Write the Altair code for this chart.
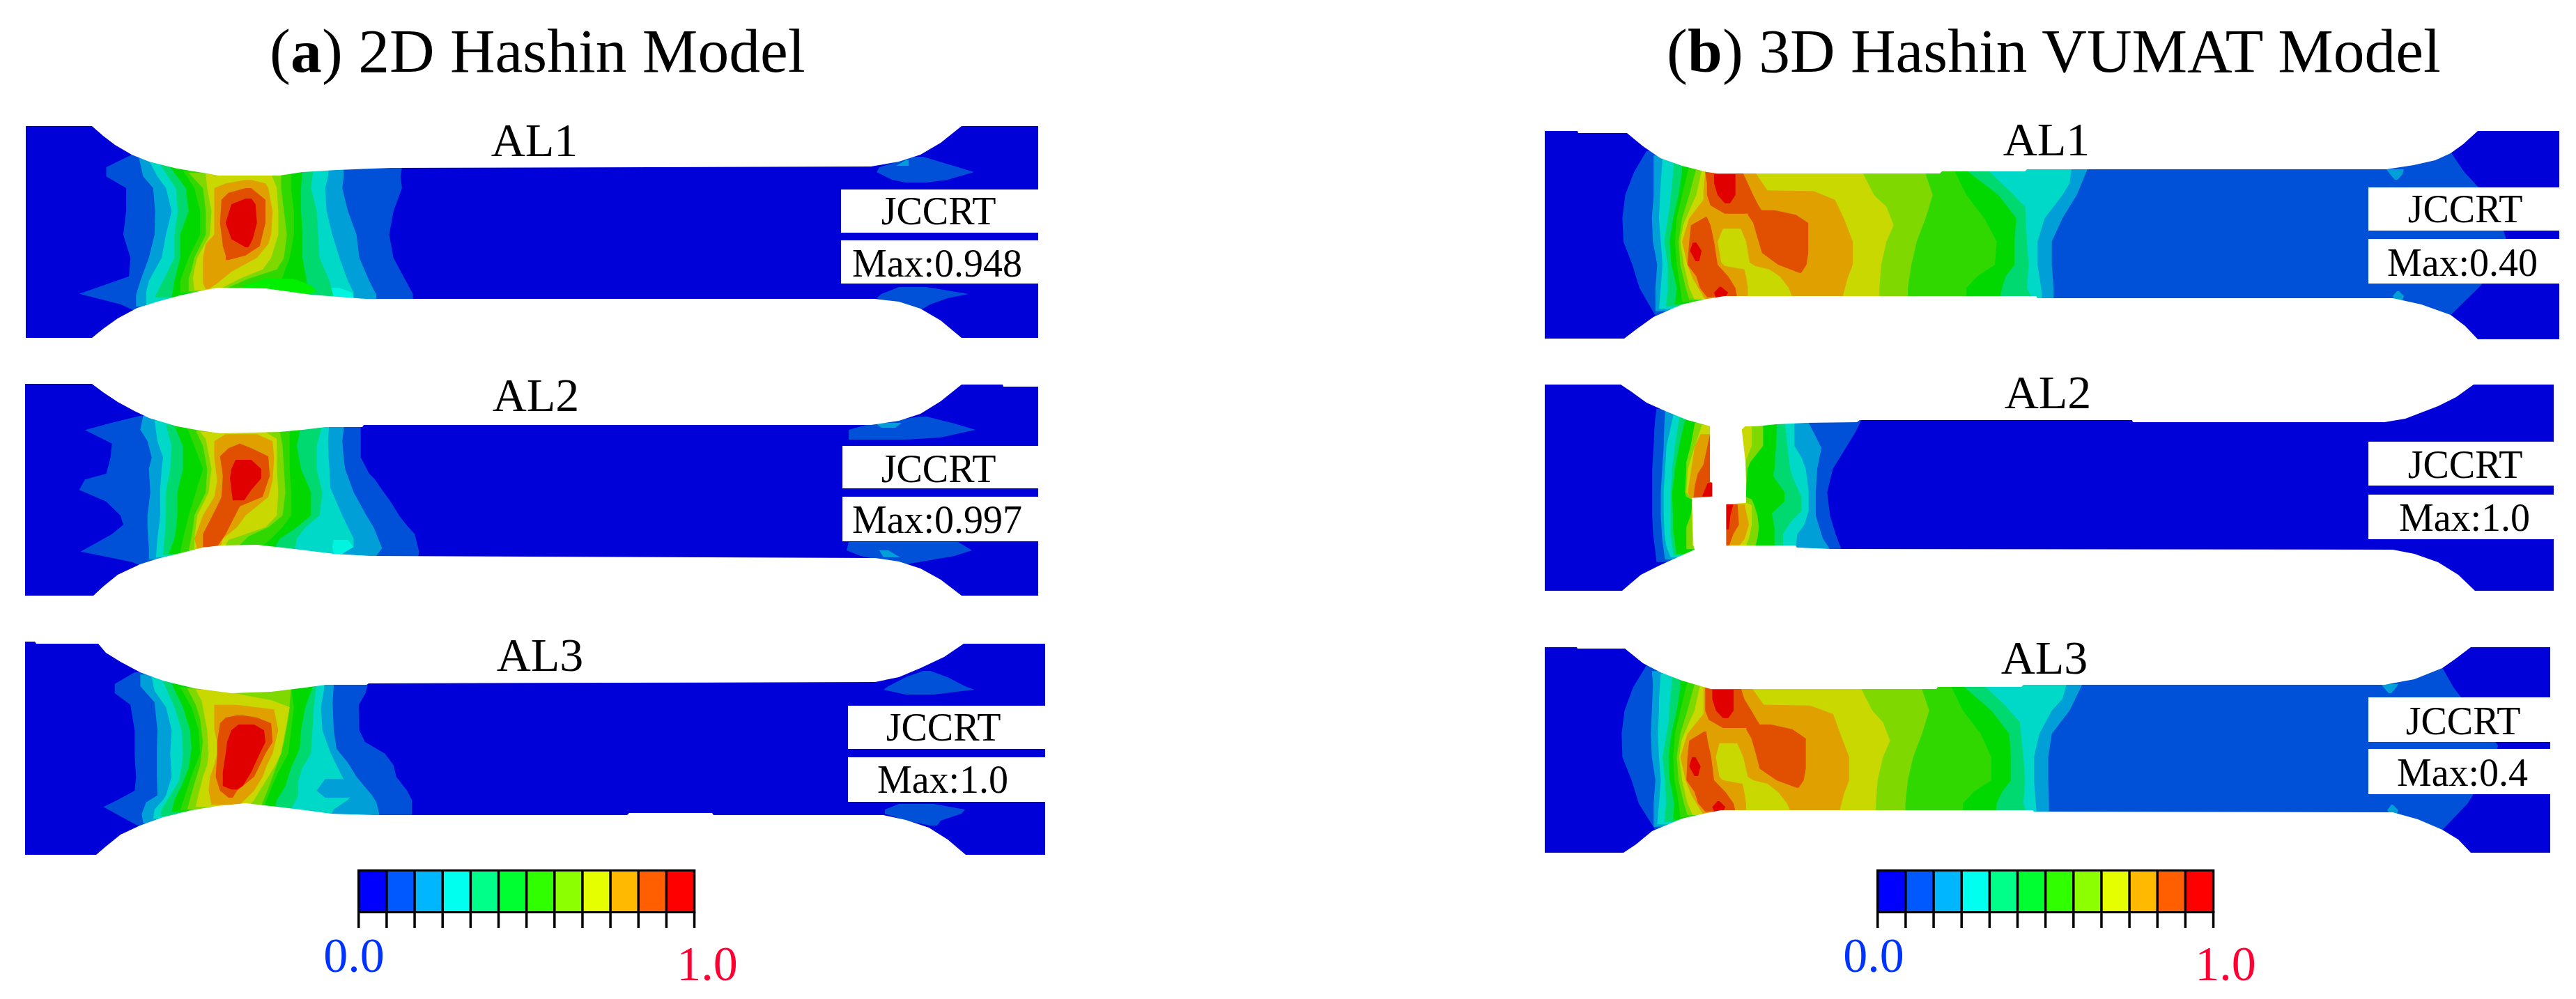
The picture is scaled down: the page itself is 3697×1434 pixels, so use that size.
import altair as alt
import pandas as pd

# ---- canvas (reference pixel units) ----
X_DOMAIN = [8, 3689]
Y_DOMAIN = [1426, 8]
WIDTH = 3681
HEIGHT = 1418
SERIF = "Liberation Serif"

PALETTE = ["#0000d8", "#0050d8", "#009fd8", "#00d8c8", "#00d870", "#00d800", "#30d800",
           "#7fd800", "#c8d800", "#e0a000", "#e05000", "#e00000", "#00f000", "#00f4e0", "#ffffff"]
BAR_COLORS = ["#0000ff", "#0058ff", "#00b6ff", "#00ffee", "#00ff88", "#00ff30",
              "#30ff00", "#8cff00", "#e6ff00", "#ffba00", "#ff5f00", "#ff0000"]

# specimen outlines: name, left, right, top, bottom
BODIES = [("a1", 37, 1490, 181, 485), ("a2", 36, 1490, 551, 855), ("a3", 36, 1500, 921, 1227),
          ("b1", 2217, 3673, 188, 487), ("b2", 2217, 3665, 552, 848), ("b3", 2217, 3660, 929, 1224)]

TOP_EDGES = {
    "a1": [(37,181),(132,181),(148,195),(165,208),(189,222),(214,232),(254,242),(291,248),(314,252),(401,252),(434,247),(483,244),(561,241),(1250,239),(1290,232),(1321,222),(1350,205),(1380,181),(1490,181)],
    "a2": [(36,551),(132,551),(148,563),(169,577),(193,590),(214,600),(254,612),(287,618),(316,622),(401,620),(434,617),(467,613),(520,613),(522,610),(1250,610),(1290,604),(1321,594),(1350,576),(1380,552),(1439,552),(1440,555),(1490,555)],
    "a3": [(36,921),(50,921),(52,924),(141,924),(152,937),(173,950),(201,965),(234,977),(279,988),(332,995),(389,993),(438,987),(467,983),(526,983),(529,981),(1256,979),(1290,972),(1321,959),(1355,943),(1383,924),(1500,924)],
    "b1": [(2217,188),(2264,188),(2265,191),(2335,191),(2358,210),(2383,227),(2414,238),(2450,247),(2465,249),(2784,249),(2787,246),(2906,246),(2909,243),(3425,243),(3464,237),(3495,230),(3517,220),(3535,207),(3556,188),(3673,188)],
    "b2": [(2217,552),(2326,552),(2341,562),(2363,578),(2390,590),(2422,603),(2455,612),(2520,612),(2549,609),(2592,607),(2665,606),(2669,603),(3060,603),(3061,606),(3422,606),(3452,601),(3499,583),(3525,570),(3550,552),(3665,552)],
    "b3": [(2217,929),(2263,929),(2264,931),(2332,931),(2358,952),(2383,965),(2414,977),(2445,986),(2455,989),(2779,989),(2781,986),(2901,986),(2904,983),(3422,983),(3465,975),(3505,959),(3525,945),(3546,929),(3660,929)],
}
BOTTOM_EDGES = {
    "a1": [(37,485),(132,485),(148,472),(169,457),(197,442),(226,433),(259,424),(291,417),(312,413),(381,414),(446,423),(524,429),(1256,429),(1290,433),(1321,443),(1350,460),(1380,485),(1490,485)],
    "a2": [(36,855),(134,855),(148,842),(169,825),(201,810),(226,802),(263,793),(291,786),(316,783),(369,782),(422,788),(479,795),(532,798),(1256,801),(1290,806),(1321,816),(1350,832),(1380,855),(1490,855)],
    "a3": [(36,1227),(138,1227),(152,1215),(173,1198),(201,1185),(234,1173),(275,1163),(312,1157),(352,1153),(397,1158),(438,1163),(475,1168),(536,1170),(900,1170),(903,1167),(1022,1167),(1024,1170),(1268,1170),(1300,1177),(1333,1188),(1360,1205),(1386,1227),(1500,1227)],
    "b1": [(2217,486),(2331,486),(2348,473),(2373,455),(2414,437),(2445,430),(2475,425),(2922,425),(2924,428),(3434,428),(3475,437),(3517,452),(3538,468),(3556,487),(3673,487)],
    "b2": [(2217,848),(2328,848),(2355,825),(2381,812),(2434,788),(2477,783),(2577,783),(2579,786),(2626,788),(3434,789),(3465,795),(3499,807),(3528,825),(3552,848),(3665,848)],
    "b3": [(2217,1224),(2330,1224),(2348,1212),(2371,1193),(2414,1175),(2445,1168),(2470,1163),(2917,1163),(2919,1165),(3434,1166),(3470,1176),(3505,1191),(3528,1205),(3546,1224),(3660,1224)],
}

# crops in which contours were read: origin x, origin y, x scale, y scale
CROPS = {"a1": (30, 170, 2.45, 3), "a2": (30, 540, 2.45, 3), "a3": (30, 915, 2.45, 3),
         "b1": (2210, 180, 1.96, 3), "b2": (2210, 540, 2.45, 3), "b3": (2210, 920, 1.96, 3)}

# contour regions: (level, [(y, x left, x right), ...]) in crop units, painted in order
A1 = [
 (1,[(150,400,1340),(210,300,1340),(250,300,1335),(300,370,1340),(400,370,1310),(500,360,1295),(600,385,1310),(680,380,1345),(755,205,1378),(800,350,1380),(840,420,1380)]),
 (2,[(170,415,1135),(250,430,1135),(300,465,1130),(400,472,1150),(500,470,1180),(600,450,1190),(700,420,1225),(760,405,1250),(810,405,1250)]),
 (3,[(180,450,1085),(250,480,1080),(300,510,1070),(400,530,1075),(500,510,1095),(600,495,1120),(700,450,1150),(750,440,1170),(800,440,1170)]),
 (13,[(730,1090,1120),(750,1085,1165),(775,1090,1170)]),
 (4,[(200,490,1030),(300,545,1020),(400,552,1040),(500,540,1045),(600,540,1050),(700,500,1085),(770,470,1100)]),
 (5,[(210,525,990),(300,580,985),(400,590,985),(500,560,990),(600,560,990),(700,540,1005),(770,530,1010)]),
 (6,[(225,570,950),(300,610,950),(400,630,960),(500,630,960),(600,590,945),(700,560,915),(750,560,880)]),
 (12,[(690,860,960),(720,780,1020),(745,800,1040),(765,800,1000)]),
 (7,[(235,590,915),(300,640,915),(400,650,925),(500,650,935),(600,610,925),(650,600,900),(690,590,800),(745,590,700)]),
 (8,[(240,650,880),(300,655,900),(400,670,905),(500,665,905),(600,620,880),(650,610,850),(690,605,770),(740,610,690)]),
 (9,[(265,790,810),(280,720,860),(300,680,870),(400,680,885),(500,680,880),(540,650,870),(600,640,830),(660,640,740),(710,640,690),(735,650,660)]),
 (10,[(300,790,810),(320,730,830),(350,705,860),(450,700,860),(550,710,840),(590,720,790),(610,720,730)]),
 (11,[(345,790,810),(370,740,825),(450,720,830),(520,740,815),(555,790,800)]),
]
A2 = [
 (1,[(170,420,1195),(200,320,1195),(232,225,1195),(290,320,1195),(350,315,1195),(420,300,1225),(445,225,1245),(490,205,1270),(540,300,1300),(600,350,1330),(640,360,1355),(680,320,1385),(755,210,1400),(800,390,1395),(830,450,1395)]),
 (2,[(170,430,1135),(230,420,1135),(280,445,1130),(350,460,1135),(400,450,1140),(500,455,1170),(600,445,1215),(650,445,1240),(740,450,1270),(790,450,1240)]),
 (3,[(190,470,1085),(280,480,1080),(350,500,1082),(400,495,1085),(480,490,1088),(600,490,1130),(700,480,1170),(730,478,1170),(780,475,1100)]),
 (13,[(705,1100,1150),(735,1095,1170),(765,1100,1130)]),
 (4,[(210,510,1060),(300,530,1040),(400,525,1040),(500,510,1060),(600,510,1050),(650,508,1000),(700,505,970),(770,500,960)]),
 (5,[(215,540,985),(300,570,970),(400,570,985),(500,550,1020),(600,550,1020),(660,545,960),(700,540,910),(765,520,880)]),
 (6,[(225,585,945),(300,610,945),(400,640,945),(500,615,950),(600,590,950),(650,580,920),(700,570,880),(760,560,820)]),
 (7,[(235,615,910),(300,640,920),(400,655,925),(500,650,930),(600,610,920),(650,605,870),(690,600,800),(750,590,750)]),
 (8,[(240,630,860),(270,650,900),(400,670,900),(500,660,905),(600,620,900),(650,615,860),(680,612,790),(705,610,730),(750,610,710)]),
 (9,[(250,720,830),(280,680,885),(350,680,890),(450,690,885),(520,680,870),(600,640,790),(650,625,760),(700,610,710),(745,620,700)]),
 (10,[(290,770,770),(310,730,810),(345,700,870),(430,710,875),(520,705,850),(560,690,770),(620,665,745),(680,640,720),(735,640,690)]),
 (11,[(360,755,810),(400,740,845),(440,735,845),(490,740,810),(535,745,785)]),
]
A3 = [
 (1,[(150,400,1220),(200,330,1220),(240,330,1212),(290,385,1188),(400,400,1190),(450,400,1210),(500,400,1280),(550,402,1310),(600,405,1320),(660,400,1358),(700,340,1375),(730,290,1375),(770,350,1375),(810,410,1375)]),
 (2,[(160,420,1100),(210,420,1100),(280,470,1096),(400,480,1100),(480,478,1110),(540,478,1150),(600,478,1180),(680,480,1235),(710,440,1250),(760,425,1260),(800,430,1260)]),
 (3,[(170,460,1070),(230,470,1065),(300,510,1055),(400,530,1060),(500,525,1090),(600,530,1130),(680,510,1160),(700,500,1150),(740,470,1100),(780,465,1085)]),
 (2,[(610,1070,1130),(660,1040,1200),(690,1070,1150)]),
 (4,[(190,500,1040),(300,540,1030),(400,565,1025),(500,570,1020),(560,565,990),(620,555,975),(680,525,975),(740,495,950),(770,490,950)]),
 (5,[(200,530,1030),(300,570,1000),(400,595,985),(480,600,980),(560,590,950),(640,565,930),(700,540,900),(750,530,890)]),
 (6,[(215,560,950),(300,600,960),(400,625,950),(500,630,940),(580,605,905),(650,585,880),(745,560,850)]),
 (7,[(220,585,950),(290,615,945),(350,630,940),(450,640,925),(550,630,900),(650,605,870),(740,585,840)]),
 (8,[(225,615,700),(250,625,790),(270,635,880),(300,640,945),(400,655,930),(500,660,915),(550,655,895),(600,640,870),(700,620,820),(730,615,800)]),
 (9,[(290,680,760),(310,680,890),(400,680,905),(450,690,895),(500,690,885),(550,680,865),(600,665,850),(660,660,820),(720,670,770)]),
 (10,[(335,760,780),(345,720,830),(370,700,880),(450,690,885),(500,690,860),(600,685,820),(660,700,760),(690,730,745)]),
 (11,[(375,765,820),(400,740,855),(450,725,860),(500,720,840),(580,710,810),(640,710,780),(655,740,760)]),
]
B1 = [
 (1,[(110,300,2560),(200,265,2600),(300,240,2660),(400,232,2700),(500,235,2720),(600,260,2700),(700,280,2640),(820,325,2560)]),
 (2,[(130,320,1540),(190,320,1540),(300,320,1510),(400,315,1470),(500,318,1440),(600,330,1440),(700,325,1445),(800,325,1445)]),
 (3,[(140,345,1500),(250,340,1490),(300,338,1470),(400,335,1420),(500,340,1400),(600,345,1400),(700,340,1410),(790,335,1415)]),
 (4,[(150,378,1265),(200,375,1265),(280,370,1320),(350,365,1365),(500,350,1370),(600,360,1375),(700,360,1370),(780,355,1395)]),
 (5,[(165,400,1205),(200,400,1205),(300,390,1290),(400,375,1340),(500,365,1335),(600,370,1335),(650,378,1310),(700,385,1300),(770,380,1290)]),
 (6,[(175,420,1160),(300,400,1200),(400,385,1250),(500,380,1285),(600,385,1280),(650,390,1230),(700,395,1200),(760,400,1200)]),
 (7,[(185,440,1080),(300,420,1105),(400,400,1085),(500,390,1060),(600,395,1045),(700,410,1035),(750,420,1035)]),
 (8,[(195,455,905),(300,440,940),(350,425,975),(430,403,995),(500,395,975),(600,405,960),(700,420,955),(750,435,955)]),
 (9,[(200,465,605),(280,460,640),(283,460,770),(320,460,830),(400,420,855),(500,400,880),(600,415,880),(660,430,865),(750,465,850)]),
 (8,[(445,515,565),(500,500,580),(590,510,590),(605,520,605),(620,575,645),(650,580,675),(700,585,700),(740,585,710)]),
 (10,[(200,465,570),(250,470,585),(300,470,600),(345,480,615),(380,520,630)]),
 (10,[(365,590,660),(385,585,720),(420,600,755),(500,615,755),(550,625,755),(600,670,750),(635,730,735)]),
 (10,[(395,465,470),(430,425,480),(500,420,490),(600,415,500),(650,440,530),(700,450,550),(740,470,555)]),
 (11,[(210,490,550),(250,490,550),(300,500,550),(335,520,535)]),
 (11,[(505,430,440),(540,422,455),(585,438,448)]),
 (11,[(695,505,510),(720,490,530),(742,495,520)]),
]
B2 = [
 (1,[(140,410,1130),(190,405,1130),(240,402,1110),(300,400,1080),(400,395,1030),(500,395,1010),(600,395,1020),(680,398,1040),(745,405,1060),(800,410,1060)]),
 (2,[(150,440,945),(200,438,945),(260,436,970),(310,435,990),(400,430,975),(500,425,970),(600,425,970),(700,430,995),(745,435,1020),(790,440,1020)]),
 (3,[(165,470,895),(300,445,895),(350,443,920),(400,440,935),(500,435,945),(580,435,945),(640,437,930),(680,438,905),(735,445,900),(780,460,900)]),
 (4,[(180,490,860),(300,475,870),(400,465,880),(440,463,890),(520,460,920),(580,460,920),(630,460,880),(680,460,855),(770,470,855)]),
 (5,[(190,510,835),(300,490,830),(400,475,825),(430,473,820),(500,465,860),(540,466,860),(590,468,815),(650,468,825),(765,480,825)]),
 (7,[(200,545,785),(300,530,785),(370,515,740),(400,515,730),(500,510,725),(520,515,725),(530,535,745),(560,535,755),(600,530,765),(650,515,770),(700,515,765),(745,515,755)]),
 (8,[(210,570,745),(300,545,745),(360,530,725),(400,520,725),(500,515,725),(530,535,700),(555,535,745),(640,535,745),(700,535,735),(730,535,725)]),
 (9,[(250,565,600),(300,545,600),(380,535,600),(420,530,600),(500,520,600),(525,530,600)]),
 (9,[(552,650,720),(640,650,735),(700,650,720),(732,650,700)]),
 (10,[(250,598,600),(380,575,600),(420,555,600),(470,545,610),(525,540,610)]),
 (10,[(552,650,695),(640,650,700),(680,650,680),(732,650,665)]),
 (11,[(460,590,610),(518,570,610)]),
 (11,[(552,650,680),(600,650,670),(660,650,665)]),
 (14,[(205,598,730),(230,598,710),(360,598,722),(455,598,725),(458,606,725),(518,606,725),(524,535,725),(545,535,725),(552,535,655),(730,540,655),(750,545,655),(790,545,655)]),
]
B3 = [
 (1,[(105,300,2535),(200,262,2570),(300,238,2620),(400,230,2670),(450,231,2695),(500,232,2690),(600,258,2650),(700,278,2610),(815,325,2538)]),
 (2,[(130,315,1530),(190,318,1525),(300,315,1490),(400,312,1440),(500,315,1430),(600,325,1430),(700,320,1432),(800,320,1432)]),
 (3,[(140,340,1490),(250,335,1470),(300,335,1440),(400,332,1405),(500,335,1390),(600,340,1390),(700,335,1395),(790,330,1400)]),
 (4,[(150,372,1250),(200,370,1255),(280,365,1310),(350,362,1350),(500,345,1360),(600,352,1365),(700,355,1360),(780,350,1380)]),
 (5,[(165,395,1195),(200,395,1195),(300,385,1270),(400,370,1320),(500,362,1325),(600,365,1325),(650,372,1300),(700,378,1285),(770,375,1280)]),
 (6,[(175,415,1150),(300,395,1190),(400,380,1240),(500,375,1270),(600,378,1270),(650,385,1220),(700,390,1190),(760,395,1190)]),
 (7,[(185,435,1070),(300,415,1095),(400,395,1075),(500,385,1050),(600,390,1035),(700,405,1028),(750,415,1028)]),
 (8,[(195,450,900),(300,435,935),(350,420,965),(430,398,985),(500,392,965),(600,400,950),(700,415,945),(750,430,945)]),
 (9,[(200,460,595),(275,460,630),(278,460,760),(315,460,825),(400,415,845),(500,395,870),(600,410,870),(660,425,855),(750,460,840)]),
 (8,[(440,505,555),(500,495,572),(585,505,585),(600,515,600),(615,570,640),(650,575,670),(700,580,695),(735,580,705)]),
 (10,[(200,465,565),(250,465,575),(300,465,595),(340,475,610),(375,515,625)]),
 (10,[(360,585,650),(380,580,710),(420,595,748),(500,610,748),(550,618,748),(600,665,742),(632,722,728)]),
 (10,[(390,462,468),(430,420,472),(500,415,482),(600,412,490),(650,435,522),(700,445,545),(735,465,550)]),
 (11,[(210,485,545),(250,485,545),(300,495,545),(332,515,530)]),
 (11,[(500,428,438),(540,420,452),(582,435,445)]),
 (11,[(690,500,505),(715,485,522),(735,490,515)]),
]
REGIONS = {"a1": A1, "a2": A2, "a3": A3, "b1": B1, "b2": B2, "b3": B3}

# grip patches, read directly in reference pixels
GRIPS = [
 (1,[(225,1310,1325),(240,1262,1375),(247,1258,1398),(258,1280,1360),(262,1300,1330)]),
 (2,[(230,1300,1304),(238,1286,1304)]),
 (1,[(412,1290,1330),(422,1265,1390),(428,1258,1360),(437,1290,1335),(443,1320,1325)]),
 (1,[(598,1320,1330),(608,1250,1370),(617,1218,1400),(628,1218,1350),(631,1218,1300)]),
 (2,[(607,1256,1294),(614,1265,1285)]),
 (1,[(778,1218,1375),(790,1215,1395),(798,1235,1370),(805,1270,1330),(810,1290,1300)]),
 (2,[(790,1262,1275),(800,1268,1292)]),
 (1,[(963,1325,1335),(972,1300,1360),(985,1275,1385),(990,1268,1398),(997,1300,1340)]),
 (1,[(1154,1290,1340),(1162,1270,1385),(1168,1270,1380),(1178,1300,1350),(1185,1335,1345)]),
 (2,[(243,3425,3450),(250,3430,3448),(258,3437,3441)]),
 (2,[(418,3440,3443),(425,3434,3450),(431,3437,3448)]),
 (2,[(982,3417,3442),(988,3422,3438),(995,3428,3432)]),
 (2,[(1155,3432,3434),(1163,3426,3442),(1168,3430,3440)]),
]

# white label boxes: x, x2, y, y2
BOXES = [(1207,1490,272,334),(1207,1490,345,407),(1209,1490,640,701),(1209,1490,713,777),
         (1217,1500,1013,1075),(1217,1500,1087,1151),(3399,3673,269,331),(3399,3673,343,407),
         (3399,3665,634,697),(3399,3665,710,774),(3399,3660,1001,1065),(3399,3660,1075,1140)]

# text: string, x, baseline y, size, colour
LABELS = [
 ("AL1",767,224,68,"#000000"),("AL2",769,590,68,"#000000"),("AL3",775,963,68,"#000000"),
 ("AL1",2937,223,68,"#000000"),("AL2",2939,586,68,"#000000"),("AL3",2934,967,68,"#000000"),
 ("JCCRT",1347,322,56,"#000000"),("Max:0.948",1345,397,56,"#000000"),
 ("JCCRT",1347,692,56,"#000000"),("Max:0.997",1345,765,56,"#000000"),
 ("JCCRT",1354,1063,56,"#000000"),("Max:1.0",1353,1138,56,"#000000"),
 ("JCCRT",3538,319,56,"#000000"),("Max:0.40",3534,396,56,"#000000"),
 ("JCCRT",3538,686,56,"#000000"),("Max:1.0",3537,762,56,"#000000"),
 ("JCCRT",3535,1054,56,"#000000"),("Max:0.4",3534,1128,56,"#000000"),
 ("0.0",508,1395,70,"#0033ff"),("1.0",1015,1407,70,"#ff0033"),
 ("0.0",2689,1395,70,"#0033ff"),("1.0",3194,1407,70,"#ff0033"),
]
TITLE_PLAIN = [("(",387,103),(") 2D Hashin Model",462,103),("(",2392,103),(") 3D Hashin VUMAT Model",2472,103)]
TITLE_BOLD = [("a",417,103),("b",2422,103)]
TITLE_SIZE = 89.5

BAR_LEFTS = [513, 2693]
CELL_STEP = 40.15
BAR_TOP, BAR_FILL_TOP, BAR_FILL_BOTTOM, BAR_BOTTOM, TICK_END = 1248, 1251, 1308, 1311, 1332

# ---- tables ----
x_enc = dict(scale=alt.Scale(domain=X_DOMAIN, nice=False, zero=False), axis=None, stack=None, title=None)
y_enc = dict(scale=alt.Scale(domain=Y_DOMAIN, nice=False, zero=False), axis=None, stack=None, title=None)

bodies = pd.DataFrame([{"x": l, "x2": r, "y": t, "y2": b} for _, l, r, t, b in BODIES])

rows = []
sid = 0
for name, regions in REGIONS.items():
    ox, oy, sx, sy = CROPS[name]
    for level, pts in regions:
        sid += 1
        for zy, zl, zr in pts:
            rows.append({"shape": sid, "color": PALETTE[level], "y": oy + zy / sy,
                         "xl": ox + zl / sx, "xr": ox + zr / sx})
for level, pts in GRIPS:
    sid += 1
    for y, xl, xr in pts:
        rows.append({"shape": sid, "color": PALETTE[level], "y": y, "xl": xl, "xr": xr})
regions_df = pd.DataFrame(rows)

mask_rows = []
for name, l, r, t, b in BODIES:
    for x, y in TOP_EDGES[name]:
        mask_rows.append({"shape": name + "t", "x": x, "y": y, "y2": t - 4})
    for x, y in BOTTOM_EDGES[name]:
        mask_rows.append({"shape": name + "b", "x": x, "y": y, "y2": b + 4})
masks_df = pd.DataFrame(mask_rows)

boxes_df = pd.DataFrame(BOXES, columns=["x", "x2", "y", "y2"])

frames, cells, ticks = [], [], []
for left in BAR_LEFTS:
    frames.append({"x": left, "x2": left + 12 * CELL_STEP + 3.5, "y": BAR_TOP, "y2": BAR_BOTTOM})
    for i, c in enumerate(BAR_COLORS):
        cells.append({"x": left + 3.5 + i * CELL_STEP, "x2": left + (i + 1) * CELL_STEP,
                      "y": BAR_FILL_TOP, "y2": BAR_FILL_BOTTOM, "color": c})
    for i in range(13):
        ticks.append({"x": left + 1.75 + i * CELL_STEP, "y": BAR_FILL_BOTTOM, "y2": TICK_END})
frames_df, cells_df, ticks_df = pd.DataFrame(frames), pd.DataFrame(cells), pd.DataFrame(ticks)

labels_df = pd.DataFrame(LABELS, columns=["text", "x", "y", "size", "color"])
plain_df = pd.DataFrame(TITLE_PLAIN, columns=["text", "x", "y"])
bold_df = pd.DataFrame(TITLE_BOLD, columns=["text", "x", "y"])


def X(f="x"):
    return alt.X(f + ":Q", **x_enc)


def Y(f="y"):
    return alt.Y(f + ":Q", **y_enc)


body_layer = alt.Chart(bodies).mark_rect(color=PALETTE[0]).encode(x=X(), x2="x2:Q", y=Y(), y2="y2:Q")
region_layer = alt.Chart(regions_df).mark_area(orient="horizontal", interpolate="linear").encode(
    y=Y(), x=X("xl"), x2="xr:Q", color=alt.Color("color:N", scale=None), detail="shape:N")
mask_layer = alt.Chart(masks_df).mark_area(orient="vertical", interpolate="linear", color="#ffffff").encode(
    x=X(), y=Y(), y2="y2:Q", detail="shape:N")
box_layer = alt.Chart(boxes_df).mark_rect(color="#ffffff").encode(x=X(), x2="x2:Q", y=Y(), y2="y2:Q")
frame_layer = alt.Chart(frames_df).mark_rect(color="#000000").encode(x=X(), x2="x2:Q", y=Y(), y2="y2:Q")
cell_layer = alt.Chart(cells_df).mark_rect().encode(
    x=X(), x2="x2:Q", y=Y(), y2="y2:Q", color=alt.Color("color:N", scale=None))
tick_layer = alt.Chart(ticks_df).mark_rule(color="#000000", strokeWidth=3.5).encode(x=X(), y=Y(), y2="y2:Q")
label_layer = alt.Chart(labels_df).mark_text(font=SERIF, baseline="alphabetic", align="center").encode(
    x=X(), y=Y(), text="text:N", size=alt.Size("size:Q", scale=None), color=alt.Color("color:N", scale=None))
plain_layer = alt.Chart(plain_df).mark_text(font=SERIF, baseline="alphabetic", align="left",
                                            fontSize=TITLE_SIZE, color="#000000").encode(
    x=X(), y=Y(), text="text:N")
bold_layer = alt.Chart(bold_df).mark_text(font=SERIF, baseline="alphabetic", align="left", fontWeight="bold",
                                          fontSize=TITLE_SIZE, color="#000000").encode(
    x=X(), y=Y(), text="text:N")

chart = alt.layer(body_layer, region_layer, mask_layer, box_layer, frame_layer, cell_layer, tick_layer,
                  label_layer, plain_layer, bold_layer).properties(
    width=WIDTH, height=HEIGHT, padding=0, background="#ffffff",
    autosize=alt.AutoSizeParams(type="none"),
).configure_view(stroke=None)

chart.save("out.html", embed_options={"renderer": "svg", "actions": False})
